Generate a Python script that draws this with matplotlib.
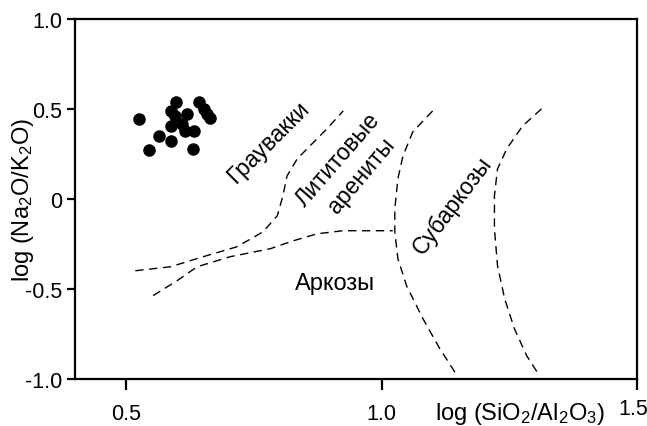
import matplotlib.pyplot as plt
import matplotlib.transforms as mtransforms

plt.rcParams['font.family'] = ['Liberation Sans', 'DejaVu Sans']
plt.rcParams['mathtext.fontset'] = 'custom'
plt.rcParams['mathtext.rm'] = 'Liberation Sans'
plt.rcParams['mathtext.it'] = 'Liberation Sans:italic'
plt.rcParams['mathtext.bf'] = 'Liberation Sans:bold'

# Sample points: log(SiO2/Al2O3), log(Na2O/K2O)
samples_x = [0.526, 0.544, 0.565, 0.588, 0.588, 0.588, 0.598, 0.596, 0.610,
             0.620, 0.616, 0.633, 0.631, 0.643, 0.653, 0.659, 0.665]
samples_y = [0.443, 0.271, 0.349, 0.321, 0.404, 0.488, 0.537, 0.460, 0.416,
             0.471, 0.377, 0.377, 0.277, 0.537, 0.499, 0.471, 0.449]

# Field boundaries (Pettijohn et al.)
greywacke_x = [0.518, 0.587, 0.651, 0.717, 0.768, 0.796, 0.807, 0.815, 0.835, 0.860, 0.893, 0.925]
greywacke_y = [-0.399, -0.377, -0.321, -0.266, -0.183, -0.094, 0.017, 0.127, 0.222, 0.294, 0.388, 0.488]

arkose_x = [0.553, 0.600, 0.639, 0.704, 0.782, 0.827, 0.874, 0.924, 1.022]
arkose_y = [-0.537, -0.454, -0.377, -0.321, -0.277, -0.233, -0.194, -0.177, -0.177]

subarkose_x = [1.100, 1.061, 1.042, 1.032, 1.026, 1.026, 1.032, 1.049, 1.081, 1.114, 1.149]
subarkose_y = [0.488, 0.371, 0.238, 0.111, -0.055, -0.183, -0.332, -0.482, -0.665, -0.831, -0.986]

quartz_x = [1.313, 1.276, 1.245, 1.227, 1.221, 1.221, 1.227, 1.241, 1.260, 1.284, 1.309]
quartz_y = [0.499, 0.404, 0.277, 0.166, 0.017, -0.166, -0.371, -0.554, -0.720, -0.870, -0.981]

xticks = [0.5, 1.0, 1.5]
xtick_labels = ['0.5', '1.0', '1.5']
yticks = [1.0, 0.5, 0, -0.5, -1.0]
ytick_labels = ['1.0', '0.5', '0', '-0.5', '-1.0']

fig = plt.figure(figsize=(6.47, 4.27), dpi=100)
ax = fig.add_axes([0.1159, 0.110, 0.8686, 0.844])

dash = (0, (6, 4))
for bx, by in [(greywacke_x, greywacke_y), (arkose_x, arkose_y),
               (subarkose_x, subarkose_y), (quartz_x, quartz_y)]:
    ax.plot(bx, by, color='black', lw=1.0, linestyle=dash)

ax.plot(samples_x, samples_y, 'o', color='black', markersize=8, zorder=3)

ax.text(0.778, 0.316, 'Граувакки', rotation=45, ha='center', va='center', fontsize=16.5)
ax.text(0.915, 0.222, 'Лититовые', rotation=49, ha='center', va='center', fontsize=16.5)
ax.text(0.961, 0.133, 'арениты', rotation=50, ha='center', va='center', fontsize=16.5)
ax.text(0.909, -0.465, 'Аркозы', ha='center', va='center', fontsize=17)
ax.text(1.138, -0.033, 'Субаркозы', rotation=53, ha='center', va='center', fontsize=16.5)

ax.set_xlim(0.4, 1.5)
ax.set_ylim(-1.0, 1.0)
ax.set_xticks(xticks)
ax.set_xticklabels(xtick_labels)
ax.set_yticks(yticks)
ax.set_yticklabels(ytick_labels)

for s in ax.spines.values():
    s.set_linewidth(1.6)
ax.tick_params(axis='both', direction='out', width=1.6, labelsize=15.5)
ax.tick_params(axis='x', length=8, pad=9)
ax.tick_params(axis='y', length=6, pad=3)

# last x label sits a little left and higher, next to the right spine
last = ax.get_xticklabels()[-1]
last.set_transform(last.get_transform() +
                   mtransforms.ScaledTranslation(-4 / 100, 5 / 100, fig.dpi_scale_trans))

ax.set_xlabel('log (SiO$_2$/Al$_2$O$_3$)', fontsize=17, va='baseline')
ax.xaxis.set_label_coords(0.792, -0.112)
ax.set_ylabel('log (Na$_2$O/K$_2$O)', fontsize=17, va='center')
ax.yaxis.set_label_coords(-0.093, 0.5)

fig.savefig('out.png', dpi=100)
